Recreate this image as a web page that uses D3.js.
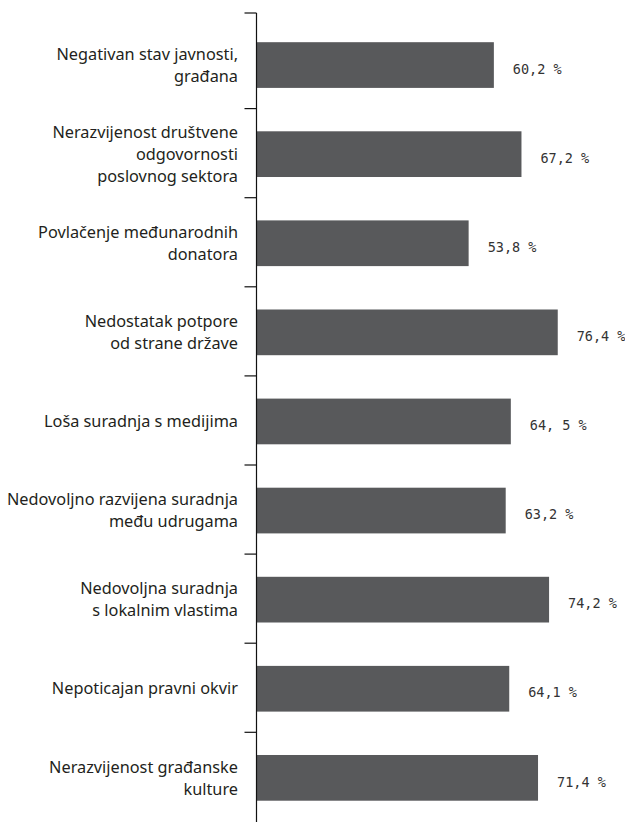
<!DOCTYPE html>
<html><head><meta charset="utf-8">
<script src="https://cdn.jsdelivr.net/npm/d3@7"></script>
<style>body{margin:0;background:#fff}</style>
</head><body>
<svg id="chart" width="625" height="822"></svg>
<script>
const categories = [
  "Negativan stav javnosti,\ngrađana",
  "Nerazvijenost društvene\nodgovornosti\nposlovnog sektora",
  "Povlačenje međunarodnih\ndonatora",
  "Nedostatak potpore\nod strane države",
  "Loša suradnja s medijima",
  "Nedovoljno razvijena suradnja\nmeđu udrugama",
  "Nedovoljna suradnja\ns lokalnim vlastima",
  "Nepoticajan pravni okvir",
  "Nerazvijenost građanske\nkulture"
];
const values = [60.2, 67.2, 53.8, 76.4, 64.5, 63.2, 74.2, 64.1, 71.4];
const valueLabels = ["60,2 %", "67,2 %", "53,8 %", "76,4 %", "64, 5 %", "63,2 %", "74,2 %", "64,1 %", "71,4 %"];

const svg = d3.select("#chart");
const x0 = 256.5;
const x = d3.scaleLinear().domain([0, 100]).range([x0, x0 + 394.3]);
const y = d3.scaleBand().domain(categories).range([20.5, 822.4]).paddingInner(0.487).paddingOuter(0.2435);
const step = y.step();

// bars
svg.append("g").selectAll("rect").data(categories).join("rect")
  .attr("x", x(0))
  .attr("y", d => y(d))
  .attr("width", (d, i) => x(values[i]) - x(0))
  .attr("height", y.bandwidth())
  .attr("fill", "#58595b");

// axis line and boundary ticks
const axisTop = 13;
const g = svg.append("g");
g.append("line").attr("x1", x0).attr("x2", x0).attr("y1", axisTop).attr("y2", 822)
  .attr("stroke", "#111").attr("stroke-width", 1.2);
const tickYs = [axisTop].concat(categories.slice(1).map(d => y(d) - (step - y.bandwidth()) / 2 - 1));
g.selectAll("line.tick").data(tickYs).join("line").attr("class", "tick")
  .attr("x1", x0 - 12).attr("x2", x0).attr("y1", d => d).attr("y2", d => d)
  .attr("stroke", "#111").attr("stroke-width", 1.2);

// category labels
const lineH = 22;
const labels = svg.append("g").attr("font-family", "'Noto Sans', sans-serif")
  .attr("font-size", 16.3).attr("fill", "#231f20").attr("text-anchor", "end");
categories.forEach(c => {
  const lines = c.split("\n");
  const cy = y(c) + y.bandwidth() / 2;
  const t = labels.append("text").attr("x", 238).attr("y", cy - (lines.length - 1) * lineH / 2);
  lines.forEach((ln, j) => {
    t.append("tspan").attr("x", 238).attr("dy", j === 0 ? "0.35em" : lineH).text(ln);
  });
});

// value labels
svg.append("g").selectAll("text").data(categories).join("text")
  .attr("x", (d, i) => x(values[i]) + 19)
  .attr("y", d => y(d) + y.bandwidth() / 2 + 4)
  .attr("dy", "0.35em")
  .attr("font-family", "'DejaVu Sans Mono', monospace")
  .attr("font-size", 13.5)
  .attr("fill", "#333")
  .text((d, i) => valueLabels[i]);
</script>
</body></html>
